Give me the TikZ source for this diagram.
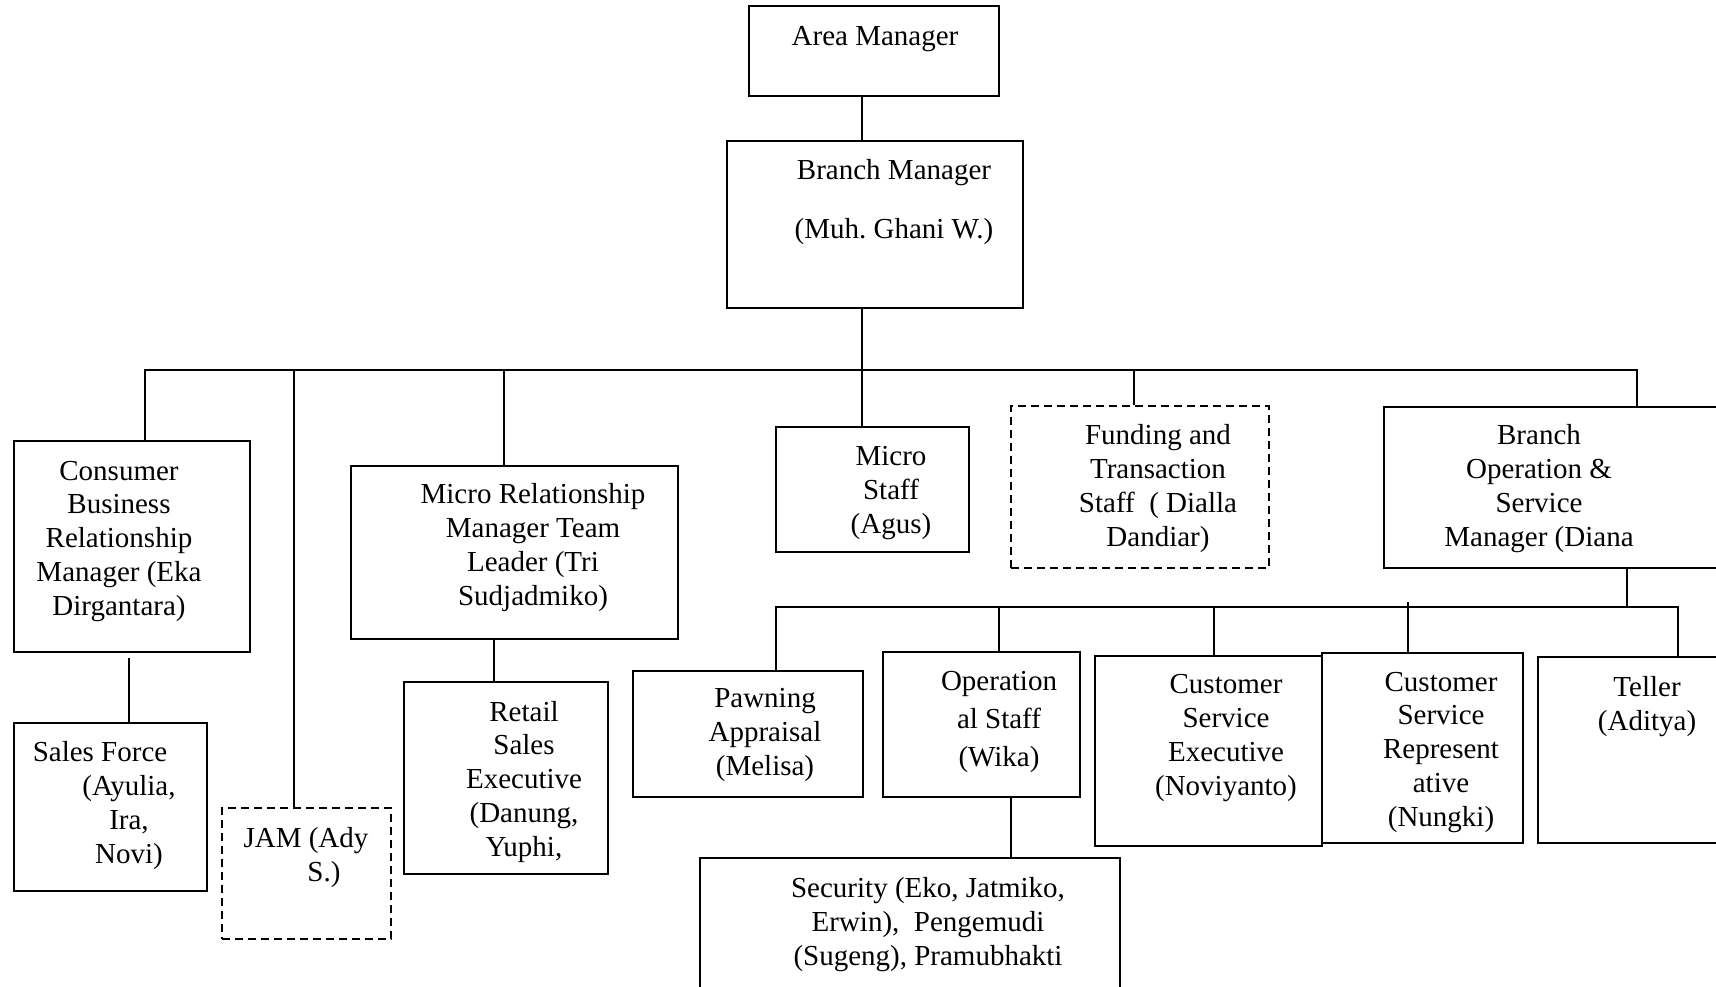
\documentclass[tikz,border=0pt]{standalone}
\usepackage{fontspec}
\setmainfont{Liberation Serif}
\usetikzlibrary{calc,positioning}

\tikzset{
    box/.style={draw, line width=0.7pt, inner sep=0pt},
    dashbox/.style={box, dash pattern=on 4pt off 2.5pt},
    txt/.style={align=center, anchor=base, inner sep=0pt, font=\fontsize{14.5}{16.85}\selectfont},
    link/.style={line width=0.7pt}
}

\begin{document}
\begin{tikzpicture}[x=0.5pt, y=-0.5pt]
    \clip (0, 0) rectangle (1716, 986);
    \node[box, minimum width=125pt, minimum height=45pt] (am) at (874, 51) {};
    \node[box, minimum width=148pt, minimum height=83.5pt] (bm) at (875, 224.5) {};
    \node[box, minimum width=118pt, minimum height=105.5pt] (cbrm) at (132, 546.5) {};
    \node[box, minimum width=163.5pt, minimum height=86.5pt] (mrm) at (514.5, 552.5) {};
    \node[box, minimum width=96.5pt, minimum height=62.5pt] (ms) at (872.5, 489.5) {};
    \node[dashbox, minimum width=129pt, minimum height=81pt] (fts) at (1140, 487) {};
    \node[box, minimum width=173pt, minimum height=80.5pt] (bosm) at (1557, 487.5) {};
    \node[box, minimum width=96.5pt, minimum height=84pt] (sf) at (110.5, 807) {};
    \node[dashbox, minimum width=84.5pt, minimum height=65.5pt] (jam) at (306.5, 873.5) {};
    \node[box, minimum width=102pt, minimum height=96pt] (rse) at (506, 778) {};
    \node[box, minimum width=115pt, minimum height=63pt] (pa) at (748, 734) {};
    \node[box, minimum width=98.5pt, minimum height=72.5pt] (os) at (981.5, 724.5) {};
    \node[box, minimum width=113.5pt, minimum height=95pt] (cse) at (1208.5, 751) {};
    \node[box, minimum width=100.5pt, minimum height=95pt] (csr) at (1422.5, 748) {};
    \node[box, minimum width=96pt, minimum height=93pt] (tel) at (1634, 750) {};
    \node[box, minimum width=210pt, minimum height=71pt] (sec) at (910, 929) {};

    \node[txt] (am-txt) at (875, 45) {Area Manager};
    \node[txt] (bm-txt) at (894, 238) {Branch Manager\\[12.65pt](Muh.\ Ghani W.)};
    \node[txt] (cbrm-txt) at (119, 615) {Consumer\\Business\\Relationship\\Manager (Eka\\Dirgantara)};
    \node[txt] (mrm-txt) at (533, 605) {Micro Relationship\\Manager Team\\Leader (Tri\\Sudjadmiko)};
    \node[txt] (ms-txt) at (891, 533) {Micro\\Staff\\(Agus)};
    \node[txt] (fts-txt) at (1158, 546) {Funding and\\Transaction\\Staff\ \ ( Dialla\\Dandiar)};
    \node[txt] (bosm-txt) at (1539, 546) {Branch\\Operation \&\\Service\\Manager (Diana};
    \node[txt] (sf-txt) at (129, 863) {Sales Force\hspace*{29pt}\\(Ayulia,\\Ira,\\Novi)};
    \node[txt] (jam-txt) at (306, 881) {JAM (Ady\\\hspace*{18pt}S.)};
    \node[txt] (rse-txt) at (524, 856) {Retail\\Sales\\Executive\\(Danung,\\Yuphi,};
    \node[txt] (pa-txt) at (765, 775) {Pawning\\Appraisal\\(Melisa)};
    \node[txt] (os-txt) at (999, 766) {Operation\\[2.15pt]al Staff\\[2.15pt](Wika)};
    \node[txt] (cse-txt) at (1226, 795) {Customer\\Service\\Executive\\(Noviyanto)};
    \node[txt] (csr-txt) at (1441, 826) {Customer\\Service\\Represent\\ative\\(Nungki)};
    \node[txt] (tel-txt) at (1647, 730) {Teller\\(Aditya)};
    \node[txt] (sec-txt) at (928, 965) {Security (Eko, Jatmiko,\\Erwin),\ \ Pengemudi\\(Sugeng), Pramubhakti};

    \coordinate (top-bus) at (862, 370);
    \coordinate (low-bus) at (1627, 607);
    \draw[link] ($(am.south)+(-12, 0)$) -- ($(bm.north)+(-13, 0)$);
    \draw[link] ($(bm.south)+(-13, 0)$) -- (top-bus);
    \draw[link] ($(cbrm.north)+(13, 0)$) |- (top-bus);
    \draw[link] ($(jam.north)+(-12.5, 0)$) |- (top-bus);
    \draw[link] ($(mrm.north)+(-10.5, 0)$) |- (top-bus);
    \draw[link] ($(ms.north)+(-10.5, 0)$) |- (top-bus);
    \draw[link] ($(fts.north)+(-6, 0)$) |- (top-bus);
    \draw[link] ($(bosm.north)+(80, 0)$) |- (top-bus);
    \draw[link] ($(sf.north)+(18.5, 0)$) coordinate (sf-up) -- ($(sf-up |- cbrm.south)+(0, 5)$);
    \draw[link] ($(rse.north)+(-12, 0)$) coordinate (rse-up) -- (rse-up |- mrm.south);
    \draw[link] ($(bosm.south)+(70, 0)$) -- (low-bus);
    \draw[link] ($(pa.north)+(28, 0)$) |- (low-bus);
    \draw[link] ($(os.north)+(17.5, 0)$) |- (low-bus);
    \draw[link] ($(cse.north)+(5.5, 0)$) |- (low-bus);
    \draw[link] ($(csr.north)+(-14.5, 0)$) -- ++(0, -50);
    \draw[link] ($(tel.north)+(44, 0)$) |- (low-bus);
    \draw[link] ($(sec.north)+(101, 0)$) coordinate (sec-up) -- (sec-up |- os.south);
\end{tikzpicture}
\end{document}
